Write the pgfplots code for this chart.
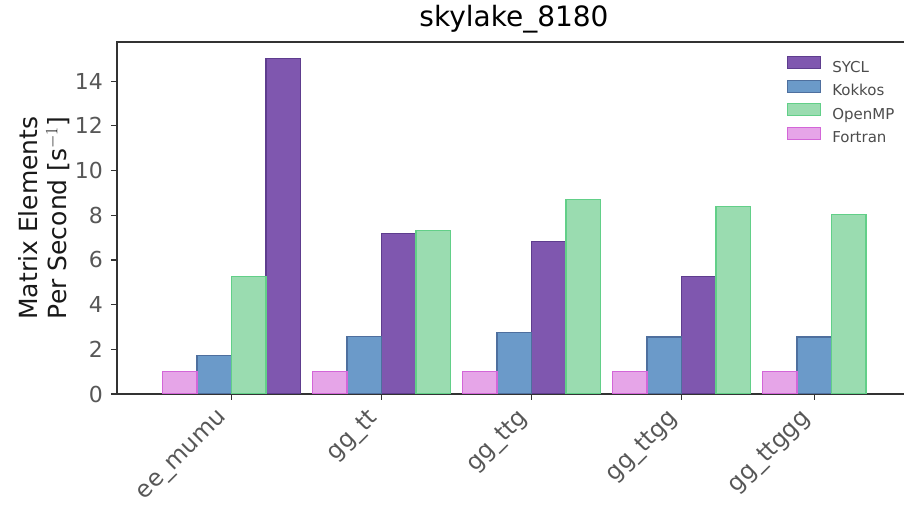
\documentclass[border=0pt]{standalone}
\usepackage{pgfplots}
\pgfplotsset{compat=1.18}
\usepackage{fontspec}
\setmainfont{DejaVu Sans}

\definecolor{syclfill}{HTML}{7F57AF}
\definecolor{sycledge}{HTML}{5E3D8E}
\definecolor{kokkosfill}{HTML}{6B9AC9}
\definecolor{kokkosedge}{HTML}{4E6F9E}
\definecolor{openmpfill}{HTML}{9ADCB0}
\definecolor{openmpedge}{HTML}{62CF88}
\definecolor{fortranfill}{HTML}{E6A5E8}
\definecolor{fortranedge}{HTML}{D366D8}

% bars sit at explicit centres: group i, slot offsets of +-0.115 / +-0.345
\pgfplotsset{
  barstyle/.style={ybar, bar shift=0pt, bar width=0.23, line width=1.1pt,
    legend image code/.code={\draw[##1] (0pt,-0.5pt) rectangle (33pt,11.5pt);}},
}

\begin{document}
\begin{tikzpicture}
\begin{axis}[
  name=ax,
  scale only axis,
  width=794pt, height=352pt,
  xmin=-0.763, xmax=4.53,
  ymin=0, ymax=15.75,
  xtick={0,1,2,3,3.885},
  xticklabels={ee\_mumu, gg\_tt, gg\_ttg, gg\_ttgg, gg\_ttggg},
  ytick={0,2,4,6,8,10,12,14},
  xtick pos=left, ytick pos=left,
  tick align=outside, major tick length=6pt,
  axis line style={color=black!80, line width=1.3pt},
  tick style={color=black!80, line width=1.2pt},
  /pgf/number format/assume math mode=true,
  ticklabel style={font=\fontsize{22}{26}\selectfont, color=black!66},
  xticklabel style={font=\fontsize{23.5}{27}\selectfont, xshift=-7pt, yshift=-15pt,
    rotate=45, anchor=east, inner sep=0pt},
  yticklabel style={inner sep=0pt, xshift=-8pt},
  title={skylake\_8180},
  title style={font=\fontsize{28}{32}\selectfont, at={(0.5,1)}, anchor=base, yshift=9pt},
  ylabel={Matrix Elements\\Per Second [s$^{-1}$]},
  ylabel style={align=center, font=\fontsize{25}{29}\selectfont, color=black!90,
    at={(rel axis cs:-0.0919,0.5)}, anchor=center},
  legend cell align=left,
  legend style={draw=none, fill=none, at={(0.8400,0.9659)}, anchor=north west,
    font=\fontsize{15}{18}\selectfont, text=black!70, row sep=4.5pt, column sep=11pt,
    nodes={inner sep=0pt, text height=11pt, text depth=3pt}},
]
\addplot[barstyle, fill=syclfill, draw=sycledge]
  coordinates {(0.345,15.0) (1.115,7.17) (2.115,6.84) (3.115,5.27)};
\addlegendentry{SYCL}
\addplot[barstyle, fill=kokkosfill, draw=kokkosedge]
  coordinates {(-0.115,1.72) (0.885,2.56) (1.885,2.76) (2.885,2.55) (3.885,2.55)};
\addlegendentry{Kokkos}
\addplot[barstyle, fill=openmpfill, draw=openmpedge]
  coordinates {(0.115,5.25) (1.345,7.30) (2.345,8.72) (3.345,8.37) (4.115,8.02)};
\addlegendentry{OpenMP}
\addplot[barstyle, fill=fortranfill, draw=fortranedge]
  coordinates {(-0.345,1.0) (0.655,1.0) (1.655,1.0) (2.655,1.0) (3.655,1.0)};
\addlegendentry{Fortran}
\end{axis}
\pgfresetboundingbox
\path (ax.south west) ++(-117pt,-111pt) rectangle ++(904pt,505pt);
\end{tikzpicture}
\end{document}
